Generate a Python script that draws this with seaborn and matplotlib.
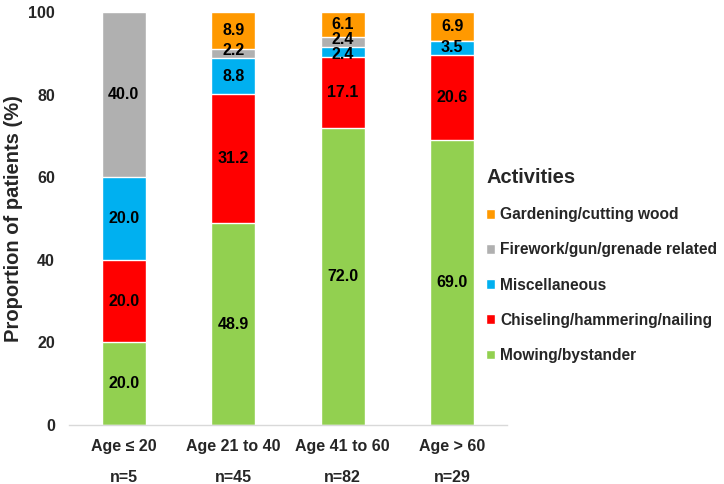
import pandas as pd
import numpy as np
import seaborn as sns
import matplotlib.pyplot as plt
from matplotlib.patches import Patch

sns.set_style("white")
plt.rcParams['font.family'] = ['Liberation Sans', 'DejaVu Sans']

ages = ['Age ≤ 20', 'Age 21 to 40', 'Age 41 to 60', 'Age > 60']
counts = ['n=5', 'n=45', 'n=82', 'n=29']
# bottom to top
activities = ['Mowing/bystander', 'Chiseling/hammering/nailing', 'Miscellaneous',
              'Firework/gun/grenade related', 'Gardening/cutting wood']
mowing = [20.0, 48.9, 72.0, 69.0]
chiseling = [20.0, 31.2, 17.1, 20.6]
misc = [20.0, 8.8, 2.4, 3.5]
firework = [40.0, 2.2, 2.4, 0.0]
gardening = [0.0, 8.9, 6.1, 6.9]
colors = ['#92D050', '#FF0000', '#00B0F0', '#B0B0B0', '#FF9900']

df = pd.DataFrame({'age': ages, 'Mowing/bystander': mowing,
                   'Chiseling/hammering/nailing': chiseling, 'Miscellaneous': misc,
                   'Firework/gun/grenade related': firework,
                   'Gardening/cutting wood': gardening})
cum = df[activities].cumsum(axis=1)
cum['age'] = ages

fig = plt.figure(figsize=(7.24, 4.84), dpi=100)
ax = fig.add_axes([0.0953, 0.122, 0.605, 0.853])

# draw tallest cumulative first so lower segments sit on top
for act, col in reversed(list(zip(activities, colors))):
    sns.barplot(x='age', y=act, data=cum, color=col, width=0.4,
                saturation=1, ax=ax, order=ages)

# segment labels (tiny neighbouring segments nudged apart a bit)
for i in range(len(ages)):
    bottom = 0
    for j, act in enumerate(activities):
        v = df[act][i]
        if v > 0:
            y = bottom + v / 2
            if v < 3 and act == 'Miscellaneous':
                y -= 0.6
            elif v < 3 and act == 'Firework/gun/grenade related':
                y += 0.6
            ax.text(i, y, f'{v:.1f}', ha='center', va='center',
                    fontsize=11.5, fontweight='bold', color='black')
        bottom += v

ax.set_ylim(0, 100)
ax.set_xlim(-0.5, 3.5)
ax.set_yticks([0, 20, 40, 60, 80, 100])
ax.set_yticklabels(['0', '20', '40', '60', '80', '100'], fontsize=11.5, fontweight='bold')
ax.set_xticks(range(4))
ax.set_xticklabels([f'{a}\n\n{n}' for a, n in zip(ages, counts)],
                   fontsize=11.5, fontweight='bold', linespacing=1.05)
ax.tick_params(length=0, pad=10)
ax.set_xlabel('')
ax.set_ylabel('Proportion of patients (%)', fontsize=14.5, fontweight='bold')
for s in ['top', 'right', 'left']:
    ax.spines[s].set_visible(False)
ax.spines['bottom'].set_color('#D9D9D9')
ax.spines['bottom'].set_linewidth(1)

handles = [Patch(facecolor=c, label=a) for a, c in zip(activities, colors)][::-1]
leg = fig.legend(handles=handles, title='Activities', loc='upper left',
                 bbox_to_anchor=(0.652, 0.682), frameon=False,
                 prop={'size': 11.2, 'weight': 'bold'}, handlelength=0.6,
                 handleheight=0.6, handletextpad=0.3, labelspacing=1.3)
leg.get_title().set_fontsize(14.5)
leg.get_title().set_fontweight('bold')
leg._legend_box.align = 'left'

fig.savefig('out.png', dpi=100)
